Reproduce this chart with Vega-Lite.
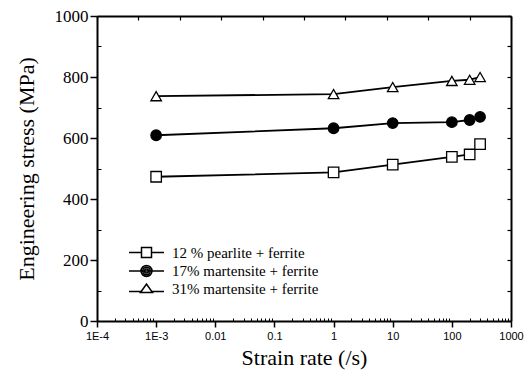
{
  "$schema": "https://vega.github.io/schema/vega-lite/v6.json",
  "autosize": "none",
  "width": 414,
  "height": 305,
  "padding": {"left": 97, "top": 16, "right": 14, "bottom": 56},
  "background": "white",
  "data": {"values": [
    {"series": "12 % pearlite + ferrite", "rate": 0.001, "stress": 473},
    {"series": "12 % pearlite + ferrite", "rate": 1, "stress": 487},
    {"series": "12 % pearlite + ferrite", "rate": 10, "stress": 513},
    {"series": "12 % pearlite + ferrite", "rate": 100, "stress": 538},
    {"series": "12 % pearlite + ferrite", "rate": 200, "stress": 546},
    {"series": "12 % pearlite + ferrite", "rate": 300, "stress": 580},
    {"series": "17% martensite + ferrite", "rate": 0.001, "stress": 609},
    {"series": "17% martensite + ferrite", "rate": 1, "stress": 632},
    {"series": "17% martensite + ferrite", "rate": 10, "stress": 649},
    {"series": "17% martensite + ferrite", "rate": 100, "stress": 652},
    {"series": "17% martensite + ferrite", "rate": 200, "stress": 659},
    {"series": "17% martensite + ferrite", "rate": 300, "stress": 669},
    {"series": "31% martensite + ferrite", "rate": 0.001, "stress": 737},
    {"series": "31% martensite + ferrite", "rate": 1, "stress": 744},
    {"series": "31% martensite + ferrite", "rate": 10, "stress": 767},
    {"series": "31% martensite + ferrite", "rate": 100, "stress": 787},
    {"series": "31% martensite + ferrite", "rate": 200, "stress": 791},
    {"series": "31% martensite + ferrite", "rate": 300, "stress": 800}
  ]},
  "config": {
    "view": {"stroke": null},
    "font": "Liberation Serif",
    "axis": {"grid": false, "domainColor": "black", "domainWidth": 2, "tickColor": "black", "tickWidth": 1.5, "labelColor": "black", "titleColor": "black", "titleFont": "Liberation Serif", "titleFontWeight": "normal"},
    "axisX": {"labelFont": "Liberation Sans", "labelFontSize": 11},
    "axisY": {"labelFont": "Liberation Serif", "labelFontSize": 17},
    "legend": {"labelFont": "Liberation Serif"}
  },
  "resolve": {"axis": {"x": "independent", "y": "independent"}, "scale": {"shape": "independent"}},
  "layer": [
    {
      "mark": {"type": "line", "color": "black", "strokeWidth": 1.8},
      "encoding": {
        "x": {"field": "rate", "type": "quantitative",
          "scale": {"type": "log", "domain": [0.0001, 1000], "nice": false},
          "axis": {"orient": "bottom", "title": "Strain rate (/s)", "values": [0.0001, 0.001, 0.01, 0.1, 1, 10, 100, 1000],
            "labelExpr": "datum.value < 0.0005 ? '1E-4' : datum.value < 0.005 ? '1E-3' : datum.value < 0.05 ? '0.01' : datum.value < 0.5 ? '0.1' : datum.value < 5 ? '1' : datum.value < 50 ? '10' : datum.value < 500 ? '100' : '1000'",
            "labelFont": "Liberation Sans", "labelFontSize": 11, "tickSize": 6, "labelPadding": 3, "labelFlush": false, "labelOverlap": false,
            "titleFontSize": 22, "titlePadding": 6}},
        "y": {"field": "stress", "type": "quantitative",
          "scale": {"domain": [0, 1000], "nice": false},
          "axis": {"orient": "left", "title": "Engineering stress (MPa)", "values": [0, 200, 400, 600, 800, 1000], "format": "d",
            "labelFont": "Liberation Serif", "labelFontSize": 17, "tickSize": 7, "labelPadding": 2, "labelFlush": false, "labelOverlap": false,
            "titleFontSize": 22, "titlePadding": 16}},
        "detail": {"field": "series"}
      }
    },
    {
      "mark": {"type": "point", "stroke": "black", "strokeWidth": 1.3, "opacity": 1, "size": 110},
      "encoding": {
        "x": {"field": "rate", "type": "quantitative", "scale": {"type": "log", "domain": [0.0001, 1000], "nice": false},
          "axis": {"orient": "bottom", "values": [0.0002,0.0003,0.0004,0.0005,0.0006,0.0007,0.0008,0.0009,0.002,0.003,0.004,0.005,0.006,0.007,0.008,0.009,0.02,0.03,0.04,0.05,0.06,0.07,0.08,0.09,0.2,0.3,0.4,0.5,0.6,0.7,0.8,0.9,2,3,4,5,6,7,8,9,20,30,40,50,60,70,80,90,200,300,400,500,600,700,800,900],
            "labels": false, "domain": false, "tickSize": 3, "offset": -3, "tickWidth": 1, "title": null}},
        "y": {"field": "stress", "type": "quantitative", "scale": {"domain": [0, 1000], "nice": false},
          "axis": {"orient": "left", "values": [100, 300, 500, 700, 900], "labels": false, "domain": false, "tickSize": 4, "offset": -4, "tickWidth": 1, "title": null}},
        "shape": {"field": "series", "type": "nominal",
          "scale": {"domain": ["12 % pearlite + ferrite", "17% martensite + ferrite", "31% martensite + ferrite"], "range": ["square", "circle", "triangle-up"]},
          "legend": null},
        "fill": {"field": "series", "type": "nominal",
          "scale": {"domain": ["12 % pearlite + ferrite", "17% martensite + ferrite", "31% martensite + ferrite"], "range": ["white", "black", "white"]},
          "legend": null}
      }
    },
    {
      "mark": {"type": "point", "opacity": 0, "filled": false, "stroke": "black", "size": 100},
      "encoding": {
        "x": {"field": "rate", "type": "quantitative", "scale": {"type": "log", "domain": [0.0001, 1000], "nice": false}, "axis": null},
        "y": {"field": "stress", "type": "quantitative", "scale": {"domain": [0, 1000], "nice": false}, "axis": null},
        "shape": {"field": "series", "type": "nominal",
          "scale": {"domain": ["12 % pearlite + ferrite", "17% martensite + ferrite", "31% martensite + ferrite"],
            "range": ["M-3.5,0H-1M1,0H3.5M-1,-1H1V1H-1Z",
                      "M-3.5,0H3.5M-1.1,0A1.1,1.1,0,1,0,1.1,0A1.1,1.1,0,1,0,-1.1,0ZM-0.75,0A0.75,0.75,0,1,0,0.75,0A0.75,0.75,0,1,0,-0.75,0ZM-0.4,0A0.4,0.4,0,1,0,0.4,0A0.4,0.4,0,1,0,-0.4,0Z",
                      "M-3.5,0.6H-1.1M1.1,0.6H3.5M-1.2,0.8L0,-0.9L1.2,0.8Z"]},
          "legend": {"title": null, "orient": "none", "legendX": 42, "legendY": 229, "padding": 0,
            "symbolSize": 100, "symbolStrokeWidth": 1.5, "symbolStrokeColor": "black", "symbolOpacity": 1,
            "labelFont": "Liberation Serif", "labelFontSize": 15, "labelColor": "black", "labelOffset": 18, "rowPadding": 1.5, "labelLimit": 300,
            "encode": {"symbols": {
              "fill": {"value": {"expr": "datum.value === '17% martensite + ferrite' ? 'black' : 'white'"}},
              "stroke": {"value": "black"},
              "strokeWidth": {"value": 1.5},
              "opacity": {"value": 1}
            }}}}
      }
    },
    {
      "mark": {"type": "point", "opacity": 0},
      "encoding": {
        "x": {"field": "rate", "type": "quantitative", "scale": {"type": "log", "domain": [0.0001, 1000], "nice": false},
          "axis": {"orient": "top", "values": [0.0001, 0.0005012, 0.002512, 0.01259, 0.0631, 0.3162, 1.585, 7.943, 39.81, 199.5, 1000],
            "labels": false, "tickSize": 4, "offset": -4, "domain": false, "tickWidth": 1.2, "title": null}},
        "y": {"field": "stress", "type": "quantitative", "scale": {"domain": [0, 1000], "nice": false},
          "axis": {"orient": "right", "values": [0, 100, 200, 300, 400, 500, 600, 700, 800, 900, 1000], "labels": false, "tickSize": 4, "offset": -4, "domain": false, "tickWidth": 1.2, "title": null}}
      }
    },
    {
      "mark": {"type": "point", "opacity": 0},
      "encoding": {
        "x": {"field": "rate", "type": "quantitative", "scale": {"type": "log", "domain": [0.0001, 1000], "nice": false},
          "axis": {"orient": "top", "labels": false, "ticks": false, "title": null}},
        "y": {"field": "stress", "type": "quantitative", "scale": {"domain": [0, 1000], "nice": false},
          "axis": {"orient": "right", "labels": false, "ticks": false, "title": null}}
      }
    }
  ]
}
